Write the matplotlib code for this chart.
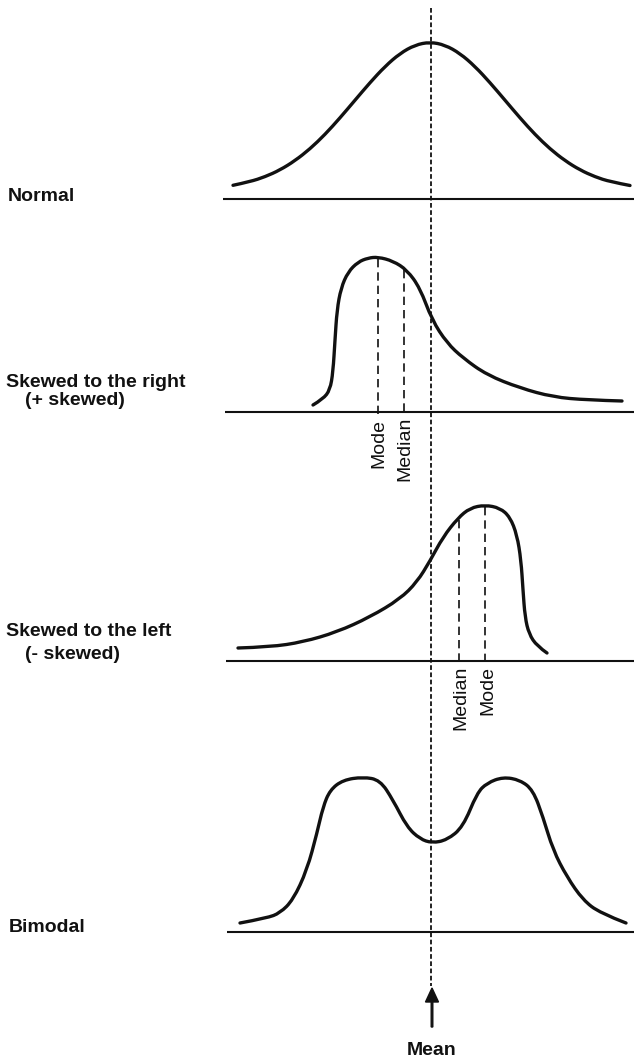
import matplotlib
matplotlib.use("Agg")
import matplotlib.pyplot as plt
from matplotlib.path import Path
from matplotlib.patches import PathPatch

# ---------------- data (pixel-space reading of the reference) ----------------
normal_x = [233, 250, 265, 280, 295, 310, 325, 340, 355, 370, 385, 400, 415, 430,
            445, 460, 475, 490, 505, 520, 535, 550, 565, 580, 595, 610, 630]
normal_y = [185.3, 181.7, 176.8, 170.0, 160.7, 148.9, 134.5, 117.9, 100.2, 82.6, 66.4, 53.4, 45.0, 42.0,
            45.0, 53.4, 66.4, 82.6, 100.2, 117.9, 134.5, 148.9, 160.7, 170.0, 176.8, 181.7, 185.5]

right_x = [313, 323, 330, 333, 335, 337, 341, 348, 358, 368, 378, 393, 407, 420, 432,
           447, 463, 487, 520, 553, 587, 622]
right_y = [405, 399, 390, 372, 340, 310, 288, 272, 262, 258, 257, 261, 270, 288, 320,
           343, 358, 375, 388, 397, 400, 401]
right_mode_x, right_mode_y = 378, 257
right_median_x, right_median_y = 404, 268

left_x = [238, 270, 303, 337, 370, 400, 417, 430, 443, 458, 470, 485, 500, 510, 517,
          521, 523, 525, 529, 537, 547]
left_y = [648, 647, 642, 632, 617, 599, 582, 561, 537, 518, 508, 505, 508, 517, 535,
          560, 590, 617, 634, 646, 653]
left_median_x, left_median_y = 459, 518
left_mode_x, left_mode_y = 485, 505

bimodal_x = [240, 267, 280, 293, 307, 317, 323, 330, 343, 363, 380, 393, 407, 420, 432,
             447, 463, 477, 487, 503, 520, 533, 543, 553, 567, 583, 600, 626]
bimodal_y = [923, 918, 913, 900, 870, 833, 807, 790, 780, 777, 780, 800, 827, 839, 843,
             840, 827, 793, 783, 777, 780, 790, 817, 850, 877, 900, 913, 923]

mean_x = 431

panel_labels = [["Normal"], ["Skewed to the right", "(+ skewed)"],
                ["Skewed to the left", "(- skewed)"], ["Bimodal"]]
right_marks = ["Mode", "Median"]
left_marks = ["Median", "Mode"]
mean_label = "Mean"

# ---------------- layout ----------------
W, H = 634, 1057
baselines = [(223, 199), (225, 412), (226, 661), (227, 932)]
label_pos = [[(8, 201)], [(6, 387), (25, 405)], [(6, 636), (25, 659)], [(9, 932)]]

fig = plt.figure(figsize=(W / 100, H / 100), dpi=100)
ax = fig.add_axes([0, 0, 1, 1])
ax.set_xlim(0, W)
ax.set_ylim(H, 0)
ax.axis("off")

INK = "#111111"
CURVE_LW = 2.4
BASE_LW = 1.5


def smooth_curve(xs, ys):
    """Quadratic-Bezier rendering of the read points (points act as control points)."""
    pts = list(zip(xs, ys))
    verts = [pts[0]]
    codes = [Path.MOVETO]
    for i in range(1, len(pts) - 1):
        mid = ((pts[i][0] + pts[i + 1][0]) / 2, (pts[i][1] + pts[i + 1][1]) / 2)
        if i == len(pts) - 2:
            mid = pts[-1]
        verts += [pts[i], mid]
        codes += [Path.CURVE3, Path.CURVE3]
    ax.add_patch(PathPatch(Path(verts, codes), fill=False, lw=CURVE_LW,
                           edgecolor=INK, capstyle="round", joinstyle="round"))


# baselines
for x0, y0 in baselines:
    ax.plot([x0, W], [y0, y0], color=INK, lw=BASE_LW, solid_capstyle="butt")

# curves
smooth_curve(normal_x, normal_y)
smooth_curve(right_x, right_y)
smooth_curve(left_x, left_y)
smooth_curve(bimodal_x, bimodal_y)

# mean line
ax.plot([mean_x, mean_x], [8, 986], color=INK, lw=1.3, linestyle=(0, (2.6, 1.4)))

# mode / median dashed lines
dash = (0, (5, 3))
for xv, yv, base in [(right_mode_x, right_mode_y, 412), (right_median_x, right_median_y, 412),
                     (left_median_x, left_median_y, 661), (left_mode_x, left_mode_y, 661)]:
    ax.plot([xv, xv], [yv + 2, base + 3], color=INK, lw=1.2, linestyle=dash)

# rotated labels
ax.text(right_mode_x + 1, 419, right_marks[0], rotation=90, ha="center", va="top",
        fontsize=14, family="Liberation Sans", color=INK)
ax.text(right_median_x + 1, 417, right_marks[1], rotation=90, ha="center", va="top",
        fontsize=14, family="Liberation Sans", color=INK)
ax.text(left_median_x + 2, 666, left_marks[0], rotation=90, ha="center", va="top",
        fontsize=14, family="Liberation Sans", color=INK)
ax.text(left_mode_x + 3, 666, left_marks[1], rotation=90, ha="center", va="top",
        fontsize=14, family="Liberation Sans", color=INK)

# left labels
for lines, poss in zip(panel_labels, label_pos):
    for t, (x, y) in zip(lines, poss):
        ax.text(x, y, t, ha="left", va="baseline", fontsize=14, fontweight="bold",
                family="Liberation Sans", color=INK)

# mean arrow and label
ax.arrow(432, 1027, 0, -39, width=1.6, head_width=13, head_length=14,
         length_includes_head=True, color=INK)
ax.text(432, 1055, mean_label, ha="center", va="baseline", fontsize=14,
        fontweight="bold", family="Liberation Sans", color=INK)

fig.savefig("out.png", dpi=100, facecolor="white")
